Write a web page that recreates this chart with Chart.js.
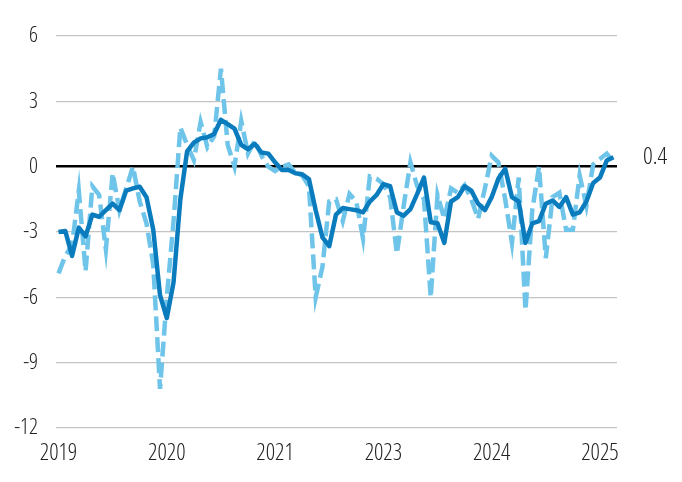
<!DOCTYPE html>
<html>
<head>
<meta charset="utf-8">
<script src="https://cdn.jsdelivr.net/npm/chart.js@4.4.1/dist/chart.umd.min.js"></script>
<style>
  body { margin: 0; background: #fff; }
  canvas { display: block; }
</style>
</head>
<body>
<canvas id="myChart" width="682" height="482"></canvas>
<script>
  // monthly, index 0 = first month of 2019
  var smoothed = [-3.0, -2.95, -4.1, -2.8, -3.2, -2.2, -2.3, -2.0, -1.7, -2.0,
    -1.1, -1.0, -0.92, -1.4, -2.9, -5.9, -6.95, -5.3, -1.5, 0.7,
    1.1, 1.3, 1.35, 1.5, 2.15, 1.95, 1.75, 1.0, 0.8, 1.05,
    0.65, 0.6, 0.2, -0.15, -0.15, -0.3, -0.35, -0.57, -2.0, -3.25,
    -3.65, -2.2, -1.9, -1.95, -2.0, -2.1, -1.6, -1.3, -0.8, -0.9,
    -2.1, -2.25, -1.95, -1.25, -0.5, -2.55, -2.6, -3.5, -1.6, -1.4,
    -0.9, -1.1, -1.7, -2.0, -1.4, -0.55, -0.1, -1.4, -1.6, -3.5,
    -2.6, -2.5, -1.7, -1.55, -1.85, -1.4, -2.2, -2.1, -1.6, -0.75,
    -0.5, 0.28, 0.43];
  var monthly = [-4.9, -4.1, -3.6, -1.1, -4.8, -0.9, -1.3, -3.8, -0.3, -2.0,
    -1.0, 0.0, -1.6, -2.6, -4.5, -10.2, -6.0, -2.5, 1.8, 1.0,
    0.3, 2.05, 0.9, 1.4, 4.5, 1.0, 0.0, 2.1, 0.6, 1.2,
    0.5, 0.0, -0.2, 0.0, 0.1, -0.3, -0.4, -0.9, -6.0, -4.6,
    -1.6, -1.5, -2.5, -1.25, -1.6, -3.3, -0.45, -0.55, -0.8, -1.4,
    -4.0, -1.8, 0.2, -0.9, -1.5, -6.0, -1.3, -2.4, -1.0, -1.2,
    -0.85, -1.5, -2.4, -1.0, 0.5, 0.2, -1.5, -3.5, -0.5, -6.6,
    -2.0, 0.0, -4.2, -1.4, -1.2, -2.9, -2.9, -0.4, -1.8, 0.1,
    0.35, 0.6, 0.2];
  var tickLabels = ["2019", "2020", "2021", "2023", "2024", "2025"];
  var tickIndex = [0, 16, 32, 48, 64, 80];
  var yTicks = [-12, -9, -6, -3, 0, 3, 6];

  var fontFamily = '"Open Sans", "Liberation Sans", sans-serif';
  var fontWeight = '300 condensed';

  function toPoints(arr)
  {
    return arr.map(function (v, i) { return { x: i, y: v }; });
  }

  var lastLabel = {
    id: 'lastLabel',
    afterDatasetsDraw: function (c) {
      var v = smoothed[smoothed.length - 1];
      var ctx = c.ctx;
      ctx.save();
      ctx.font = 'normal ' + fontWeight + ' 24px ' + fontFamily;
      ctx.fillStyle = '#222';
      ctx.textAlign = 'left';
      ctx.textBaseline = 'middle';
      ctx.fillText(v.toFixed(1), c.chartArea.right + 26, c.scales.y.getPixelForValue(v));
      ctx.restore();
    }
  };

  var chart = document.getElementById("myChart").getContext('2d');
  var chartx = new Chart(chart, {
    type: "line",
    data: {
      datasets: [{
        data: toPoints(smoothed),
        borderColor: "#0a7bbd",
        borderWidth: 4.5,
        borderJoinStyle: "round",
        pointRadius: 0,
        tension: 0
      }, {
        data: toPoints(monthly),
        borderColor: "#6fc4e9",
        borderWidth: 4.5,
        borderDash: [15, 6],
        pointRadius: 0,
        tension: 0
      }]
    },
    options: {
      responsive: false,
      animation: false,
      layout: { padding: { left: 0, right: 65, top: 36, bottom: 0 } },
      plugins: {
        legend: { display: false },
        tooltip: { enabled: false }
      },
      scales: {
        x: {
          type: "linear",
          min: -0.37,
          max: 82.52,
          grid: { display: false, drawTicks: false },
          border: { display: false },
          afterBuildTicks: function (s) {
            s.ticks = tickIndex.map(function (v) { return { value: v }; });
          },
          afterFit: function (s) { s.height = 54; },
          ticks: {
            autoSkip: false,
            maxRotation: 0,
            padding: 12,
            color: "#222",
            font: { family: fontFamily, size: 23, style: 'normal', weight: fontWeight },
            callback: function (v) {
              var k = tickIndex.indexOf(v);
              return k < 0 ? "" : tickLabels[k];
            }
          }
        },
        y: {
          min: -12,
          max: 6,
          afterBuildTicks: function (s) {
            s.ticks = yTicks.map(function (v) { return { value: v }; });
          },
          afterFit: function (s) { s.width = 56; },
          border: { display: false },
          grid: {
            drawTicks: false,
            color: function (c) { return c.tick && c.tick.value === 0 ? "#000" : "#c4c4c4"; },
            lineWidth: function (c) { return c.tick && c.tick.value === 0 ? 2.5 : 1.3; }
          },
          ticks: {
            padding: 18,
            color: "#222",
            font: { family: fontFamily, size: 22, style: 'normal', weight: fontWeight }
          }
        }
      }
    },
    plugins: [lastLabel]
  });
</script>
</body>
</html>
